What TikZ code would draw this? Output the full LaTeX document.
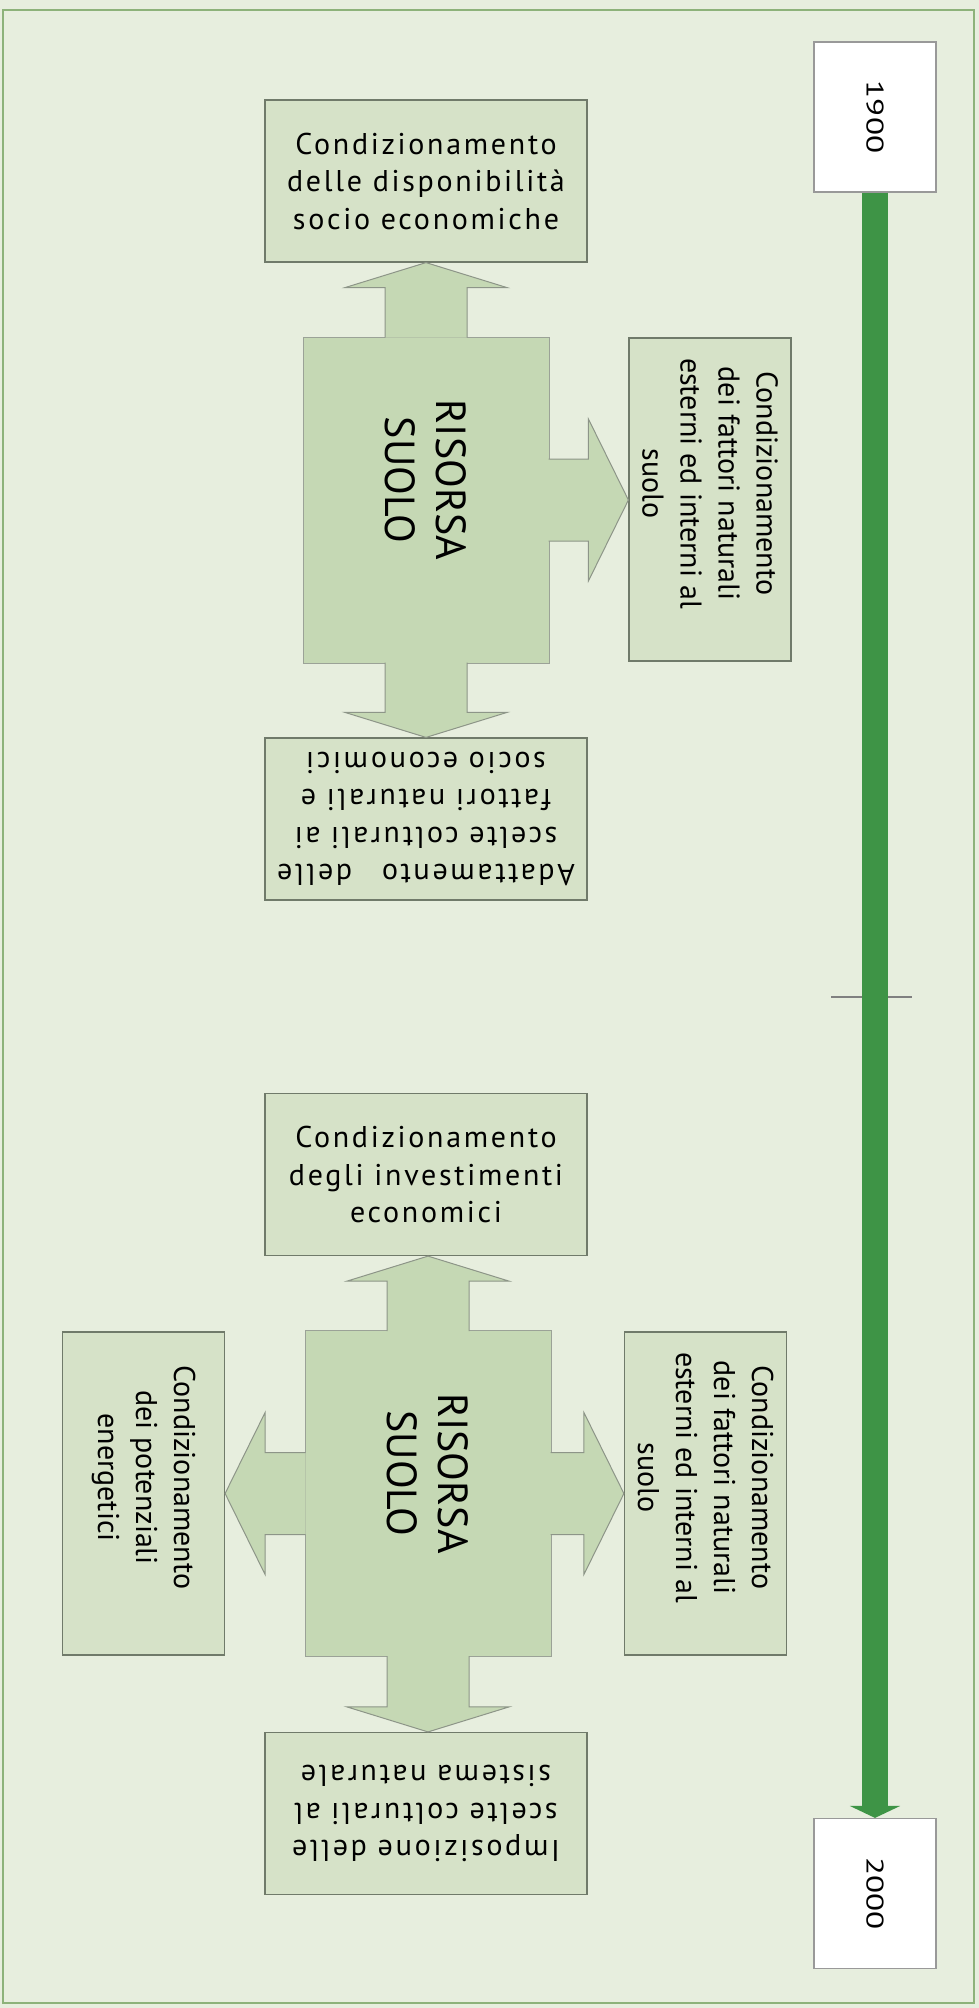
\documentclass[tikz,border=0pt]{standalone}
\usepackage{fontspec}
\setmainfont{PT Sans}
\usetikzlibrary{calc,arrows.meta}

\definecolor{bgcol}{RGB}{231,238,222}
\definecolor{framecol}{RGB}{141,178,122}
\definecolor{boxcol}{RGB}{214,226,200}
\definecolor{corecol}{RGB}{197,216,180}
\definecolor{edgecol}{RGB}{112,122,106}
\definecolor{linecol}{RGB}{62,148,70}

\newcommand\blkarrow[3]{%
  \filldraw[blkarr] let \p1=($(#2)-(#1)$), \n1={veclen(\x1,\y1)}, \n2={atan2(\y1,\x1)} in
    [shift={(#1)}, rotate=\n2]
    (-0.5pt,-20.5pt) -- (\n1-#3,-20.5pt) -- (\n1-#3,-40.5pt) -- (\n1,0pt)
    -- (\n1-#3,40.5pt) -- (\n1-#3,20.5pt) -- (-0.5pt,20.5pt);
}

\begin{document}
\begin{tikzpicture}[x=0.5pt, y=-0.5pt,
  box/.style={draw=edgecol, line width=0.6pt, fill=boxcol, inner sep=0pt},
  hbox/.style={box, minimum width=161pt, minimum height=81pt, align=center,
    font=\fontsize{15}{18.75}\selectfont\addfontfeature{LetterSpace=9}},
  vbox/.style={box, minimum width=81pt, minimum height=161.5pt},
  vtxt/.style={rotate=-90, align=center, font=\fontsize{15}{19}\selectfont},
  core/.style={draw=edgecol!70, line width=0.5pt, fill=corecol, minimum width=123pt, minimum height=163pt},
  coretxt/.style={rotate=-90, align=center, font=\fontsize{21}{25.5}\selectfont},
  blkarr/.style={fill=corecol, draw=edgecol!80, line width=0.5pt},
  yearbox/.style={draw=gray!80, line width=0.6pt, fill=white, minimum width=61pt, minimum height=75pt},
  yeartxt/.style={rotate=-90, xscale=1.38, font=\fontsize{12}{14}\selectfont},
  timeline/.style={draw=linecol, line width=13pt, -{Triangle[width=25pt,length=6pt]}},
  ticknote/.style={draw=gray, line width=0.7pt}]

\fill[bgcol] (0,0) rectangle (979,2008);
\draw[framecol, line width=1pt] (3,10) rectangle (974,2003);

\node[yearbox] (y1900) at (875,117) {};
\node[yeartxt] at (y1900.center) {1900};
\node[yearbox] (y2000) at (875,1893.5) {};
\node[yeartxt] at (y2000.center) {2000};
\draw[ticknote] (831,997) -- (912,997);
\draw[timeline] (y1900.south) -- (y2000.north);

\node[hbox] (top1) at (426,181) {Condizionamento\\delle disponibilità\\socio economiche};
\node[core] (c1) at (426,500) {};
\node[vbox] (r1) at (710,499.5) {};
\node[vtxt] at ([yshift=8pt]r1.center) {Condizionamento\\dei fattori naturali\\esterni ed interni al\\suolo};
\node[hbox, rotate=180] (b1) at (426,819) {Adattamento\hspace{15pt}delle\\scelte colturali ai\\fattori naturali e\\socio economici};

\blkarrow{c1.north}{c1.north |- top1.south}{12.5pt}
\blkarrow{c1.east}{c1.east -| r1.west}{20pt}
\blkarrow{c1.south}{c1.south |- b1.south}{12.5pt}
\node[coretxt] at ([yshift=10pt]c1.center) {RISORSA\\SUOLO};

\node[hbox] (t2) at (426,1174.5) {Condizionamento\\degli investimenti\\economici};
\node[core] (c2) at (428,1493.5) {};
\node[vbox] (l2) at (143.5,1493.5) {};
\node[vtxt] at ([yshift=8pt]l2.center) {Condizionamento\\dei potenziali\\energetici};
\node[vbox] (r2) at (705.5,1493.5) {};
\node[vtxt] at ([yshift=8pt]r2.center) {Condizionamento\\dei fattori naturali\\esterni ed interni al\\suolo};
\node[hbox, rotate=180] (b2) at (426,1813.5) {Imposizione delle\\scelte colturali al\\sistema naturale};

\blkarrow{c2.north}{c2.north |- t2.south}{12.5pt}
\blkarrow{c2.west}{c2.west -| l2.east}{20pt}
\blkarrow{c2.east}{c2.east -| r2.west}{20pt}
\blkarrow{c2.south}{c2.south |- b2.south}{12.5pt}
\node[coretxt] at ([yshift=10pt]c2.center) {RISORSA\\SUOLO};

\end{tikzpicture}
\end{document}
